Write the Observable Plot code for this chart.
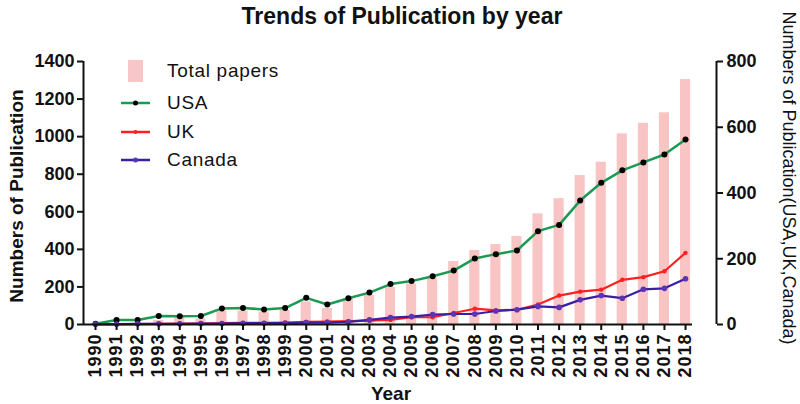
<!DOCTYPE html>
<html><head><meta charset="utf-8">
<script src="https://cdn.jsdelivr.net/npm/d3@7"></script>
<script src="https://cdn.jsdelivr.net/npm/@observablehq/plot@0.6"></script>
<style>
body{margin:0;background:#fff;font-family:"Liberation Sans",Arial,sans-serif;}
#wrap{position:relative;width:800px;height:404px;overflow:hidden;}
#title{position:absolute;left:0;top:3px;width:804px;text-align:center;font-weight:bold;font-size:23px;color:#111;}
.lg{position:absolute;left:118px;height:28px;display:flex;align-items:center;font-size:19px;letter-spacing:0.7px;color:#111;}
.lg svg{width:36px;height:28px;margin-right:13px;}
</style></head>
<body>
<div id="wrap">
<div id="chart"></div>
<div id="title">Trends of Publication by year</div>
<div class="lg" style="top:57px"><svg><rect x="10" y="3" width="15" height="22" fill="#f8c6c6"/></svg>Total papers</div>
<div class="lg" style="top:89px"><svg><line x1="3" y1="14" x2="32" y2="14" stroke="#1b9a52" stroke-width="2.5"/><circle cx="17.5" cy="14" r="2.5" fill="#000"/></svg>USA</div>
<div class="lg" style="top:118px"><svg><line x1="3" y1="14" x2="32" y2="14" stroke="#ff2020" stroke-width="2.5"/><circle cx="17.5" cy="14" r="2" fill="#ff2020"/></svg>UK</div>
<div class="lg" style="top:146px"><svg><line x1="3" y1="14" x2="32" y2="14" stroke="#3a1fa5" stroke-width="2.5"/><circle cx="17.5" cy="14" r="2.5" fill="#5a35b5"/></svg>Canada</div>
</div>
<script>
const years = [1990,1991,1992,1993,1994,1995,1996,1997,1998,1999,2000,2001,2002,2003,2004,2005,2006,2007,2008,2009,2010,2011,2012,2013,2014,2015,2016,2017,2018];
const totalPapers = [3,5,8,21,39,30,70,71,66,75,120,85,137,155,199,216,245,335,394,426,468,589,670,793,864,1015,1071,1127,1304];
const usa = [2,14,14,26,25,26,49,50,46,50,81,61,80,97,123,132,147,164,201,214,225,284,303,377,431,469,493,517,563];
const uk = [0,1,1,2,3,3,4,5,5,6,8,9,10,12,14,22,22,35,48,43,45,61,88,100,106,136,144,162,218];
const canada = [1,1,2,2,2,3,3,4,4,4,6,6,8,14,21,24,30,32,32,41,45,55,52,75,88,80,107,110,139];
const leftTicks = [0,200,400,600,800,1000,1200,1400];
const rightTicks = [0,200,400,600,800];

const k = 1400/800; // right axis -> left axis units
const xMin = 1989.43, xMax = 2019.47, xAxisEnd = 2018.33;
const data = years.map((year,i)=>({year,total:totalPapers[i],usa:usa[i],uk:uk[i],canada:canada[i]}));
const font = "Liberation Sans, Arial, sans-serif";

const chart = Plot.plot({
  width:800, height:404,
  marginLeft:83, marginRight:84, marginTop:61, marginBottom:80,
  x:{domain:[xMin,xMax], axis:null},
  y:{domain:[0,1400], axis:null},
  style:{fontFamily:font, color:"#111", background:"transparent", overflow:"visible"},
  marks:[
    Plot.rectY(data,{x1:d=>d.year-0.24, x2:d=>d.year+0.24, y:"total", fill:"#f8c4c4"}),
    Plot.line(data,{x:"year", y:d=>d.usa*k, stroke:"#1b9a52", strokeWidth:2.5}),
    Plot.dot(data,{x:"year", y:d=>d.usa*k, r:3, fill:"#000"}),
    Plot.line(data,{x:"year", y:d=>d.uk*k, stroke:"#ff2020", strokeWidth:2.2}),
    Plot.dot(data,{x:"year", y:d=>d.uk*k, r:2.2, fill:"#ff2020"}),
    Plot.line(data,{x:"year", y:d=>d.canada*k, stroke:"#3a1fa5", strokeWidth:2.2}),
    Plot.dot(data,{x:"year", y:d=>d.canada*k, r:2.8, fill:"#5a35b5"}),
    Plot.ruleX([xMin],{y1:0, y2:1400, strokeWidth:2, stroke:"#111"}),
    Plot.ruleX([xMax],{y1:0, y2:1400, strokeWidth:2, stroke:"#111"}),
    Plot.ruleY([0],{x1:xMin, x2:xAxisEnd, strokeWidth:2, stroke:"#111"}),
    Plot.axisY({anchor:"left", ticks:leftTicks, tickFormat:d=>String(d), tickSize:6, tickPadding:3, strokeWidth:2, fontSize:18, fontWeight:"bold", label:null}),
    Plot.axisY({anchor:"right", ticks:rightTicks.map(v=>v*k), tickFormat:d=>String(Math.round(d/k)), tickSize:6, tickPadding:4, strokeWidth:2, fontSize:18, fontWeight:"bold", label:null}),
    Plot.axisX({ticks:years, tickFormat:d=>String(d), tickRotate:-90, tickSize:6, tickPadding:3, strokeWidth:2, fontSize:18, fontWeight:"bold", label:null}),
    Plot.text(["Numbers of Publication"],{frameAnchor:"left", textAnchor:"middle", dx:-67, dy:3, rotate:-90, fontSize:19, fontWeight:"bold", fill:"#111"}),
    Plot.text(["Numbers of Publication(USA,UK,Canada)"],{frameAnchor:"right", textAnchor:"middle", dx:72, dy:-15, rotate:90, fontSize:18, fill:"#111"}),
    Plot.text(["Year"],{frameAnchor:"bottom", dx:-9, dy:75, fontSize:19, fontWeight:"bold", fill:"#111"})
  ]
});
d3.select(chart).selectAll("g[aria-label='x-axis tick label'] text").style("letter-spacing","1px");
document.getElementById("chart").appendChild(chart);
</script>
</body></html>
